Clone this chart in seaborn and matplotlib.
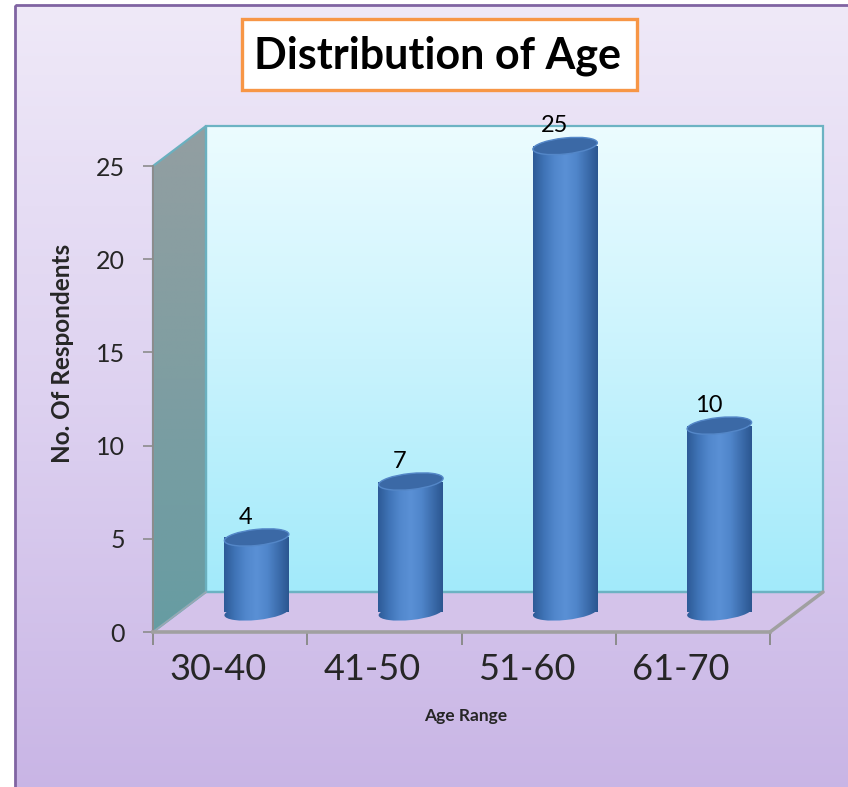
import numpy as np
import matplotlib
matplotlib.use("Agg")
import matplotlib.pyplot as plt
import matplotlib.transforms as mtransforms
from matplotlib.patches import Polygon, Ellipse, Rectangle
from matplotlib.colors import LinearSegmentedColormap
import seaborn as sns

# ---- data ----
age_ranges = ["30-40", "41-50", "51-60", "61-70"]
respondents = [4, 7, 25, 10]
y_ticks = [0, 5, 10, 15, 20, 25]

sns.set_theme(style="white")
plt.rcParams["font.family"] = ["Lato", "DejaVu Sans"]

W, H = 848, 787
fig = plt.figure(figsize=(W / 100, H / 100), dpi=100)


def fx(px):
    return px / W


def fy(py):
    return 1 - py / H


def gradient_fill(ax, extent, colors, clip, zorder, horizontal=False):
    cmap = LinearSegmentedColormap.from_list("grad", colors)
    arr = np.linspace(0, 1, 256)
    arr = arr.reshape(1, -1) if horizontal else arr.reshape(-1, 1)
    img = ax.imshow(arr, cmap=cmap, extent=extent, aspect="auto",
                    origin="upper", zorder=zorder, interpolation="bilinear")
    img.set_clip_path(clip)
    return img


# ---- backdrop canvas (pixel coordinates) ----
bg = fig.add_axes([0, 0, 1, 1], zorder=0)
bg.axis("off")

panel = Rectangle((15, 5), 860, 800, facecolor="none", edgecolor="none")
bg.add_patch(panel)
gradient_fill(bg, (15, 875, 805, 5), ["#efe9f8", "#ddd1f0", "#c8b4e5"], panel, 0)
bg.add_patch(Rectangle((15, 5), 860, 800, facecolor="none",
                       edgecolor="#8064a2", lw=2, zorder=1))

# plot-box geometry
x0, x1 = 153, 770     # front x-axis extent
yb, yt = 632, 166     # front y=0 and y=25
DX, DY = 53, 40       # depth offset of the back wall
ppu = (yb - yt) / 25  # pixels per unit

# back wall
back = Polygon([(x0 + DX, yt - DY), (x1 + DX, yt - DY), (x1 + DX, yb - DY), (x0 + DX, yb - DY)],
               closed=True, facecolor="none", edgecolor="none")
bg.add_patch(back)
gradient_fill(bg, (x0 + DX, x1 + DX, yb - DY, yt - DY), ["#ecfcff", "#c9f3fd", "#a2eafa"], back, 2)
bg.add_patch(Polygon(back.get_xy(), closed=True, facecolor="none",
                     edgecolor="#6cb3c3", lw=1.6, zorder=3))

# left side wall
side = Polygon([(x0, yt), (x0 + DX, yt - DY), (x0 + DX, yb - DY), (x0, yb)],
               closed=True, facecolor="none", edgecolor="none")
bg.add_patch(side)
gradient_fill(bg, (x0, x0 + DX, yb, yt - DY), ["#939ea1", "#7f9ea2", "#669ca2"], side, 2)
bg.add_patch(Polygon(side.get_xy(), closed=True, facecolor="none",
                     edgecolor="#6ab0bf", lw=1.6, zorder=3))

# floor
floor = Polygon([(x0, yb), (x0 + DX, yb - DY), (x1 + DX, yb - DY), (x1, yb)],
                closed=True, facecolor="#d4c3ea", edgecolor="none", zorder=2)
bg.add_patch(floor)
bg.plot([x0 + DX, x1 + DX], [yb - DY, yb - DY], color="#6cb3c3", lw=1.6, zorder=3)
bg.plot([x1, x1 + DX], [yb, yb - DY], color="#a0a0a0", lw=2.5, zorder=3,
        solid_capstyle="round")
bg.plot([x0, x0 + DX], [yb, yb - DY], color="#9aa6b0", lw=1.2, zorder=3)

# title box
bg.add_patch(Rectangle((242, 19), 395, 71, facecolor="white",
                       edgecolor="#f79646", lw=2.4, zorder=4))
bg.text(438, 69, "Distribution of Age", ha="center", va="baseline",
        fontsize=31, fontweight="bold", color="black", zorder=5)

bg.set_xlim(0, W)
bg.set_ylim(H, 0)

# ---- front axes: ticks, axis lines and labels ----
ax = fig.add_axes([fx(x0), fy(yb), (x1 - x0) / W, (yb - yt) / H], zorder=2)
ax.patch.set_alpha(0)
ax.set_xlim(-0.5, len(age_ranges) - 0.5)
ax.set_ylim(0, 25)
for s in ("top", "right"):
    ax.spines[s].set_visible(False)
ax.spines["left"].set_color("#8c8c8c")
ax.spines["left"].set_linewidth(1.4)
ax.spines["bottom"].set_color("#a0a0a0")
ax.spines["bottom"].set_linewidth(2.6)

ax.set_yticks(y_ticks)
ax.set_yticklabels([str(t) for t in y_ticks], fontsize=18)
ax.tick_params(axis="y", length=7.2, width=1.2, color="#8c8c8c", pad=13, left=True)

ax.set_xticks(np.arange(len(age_ranges) + 1) - 0.5)
ax.set_xticklabels([])
ax.set_xticks(np.arange(len(age_ranges)), minor=True)
ax.set_xticklabels(age_ranges, minor=True, fontsize=26)
ax.tick_params(axis="x", which="major", length=9.4, width=1.4, color="#8c8c8c", bottom=True)
ax.tick_params(axis="x", which="minor", length=0, pad=15)
shift = mtransforms.ScaledTranslation(-0.12, 0, fig.dpi_scale_trans)
for lab in ax.get_xticklabels(minor=True):
    lab.set_transform(lab.get_transform() + shift)

ax.set_ylabel("No. Of Respondents", fontsize=17.5, fontweight="bold")
ax.yaxis.label.set_verticalalignment("center")
ax.yaxis.set_label_coords((62 - x0) / (x1 - x0), (yb - 353) / (yb - yt))
ax.set_xlabel("Age Range", fontsize=12.5, fontweight="bold")
ax.xaxis.label.set_verticalalignment("center")
ax.xaxis.set_label_coords((466 - x0) / (x1 - x0), (yb - 716) / (yb - yt))
ax.grid(False)

# ---- cylinders, drawn half-way into the depth ----
ylo = -2.0  # room below the base for the rounded bottoms
bax = fig.add_axes([fx(x0 + DX / 2), fy(yb - DY / 2 - ylo * ppu),
                    (x1 - x0) / W, (yb - yt - ylo * ppu) / H], zorder=3)
sns.barplot(x=age_ranges, y=respondents, ax=bax, width=0.42, color="#4a7fc2",
            saturation=1, edgecolor="none", linewidth=0)
bax.axis("off")

body_colors = ["#2d5a96", "#3f73b6", "#5187cc", "#5a90d5", "#5086cb", "#3d6eae", "#2b5690"]
px_per_cat = (x1 - x0) / len(age_ranges)
cap_h_in = 0.16
tilt = 6

for patch, value in zip(bax.patches, respondents):
    bx, bw, bh = patch.get_x(), patch.get_width(), patch.get_height()
    cx = bx + bw / 2
    w_in = bw * px_per_cat / 100

    gradient_fill(bax, (bx, bx + bw, 0, bh), body_colors, patch, 2, horizontal=True)

    base = Ellipse((0, 0), w_in, cap_h_in, angle=tilt,
                   transform=fig.dpi_scale_trans + mtransforms.ScaledTranslation(cx, 0, bax.transData),
                   facecolor="none", edgecolor="none")
    bax.add_patch(base)
    gradient_fill(bax, (bx, bx + bw, -1.5, 1.5), body_colors, base, 2, horizontal=True)

    top = Ellipse((0, 0), w_in, cap_h_in, angle=tilt,
                  transform=fig.dpi_scale_trans + mtransforms.ScaledTranslation(cx, bh, bax.transData),
                  facecolor="#3b69a6", edgecolor="#5487c8", lw=1.0, zorder=4)
    top.set_clip_on(False)
    bax.add_patch(top)

    bax.annotate(str(value), (cx, bh), xytext=(-11, 20), textcoords="offset pixels",
                 ha="center", va="center", fontsize=17, color="black", zorder=5,
                 annotation_clip=False)

bax.set_xlim(-0.5, len(age_ranges) - 0.5)
bax.set_ylim(ylo, 25)

fig.savefig("out.png", dpi=100)
